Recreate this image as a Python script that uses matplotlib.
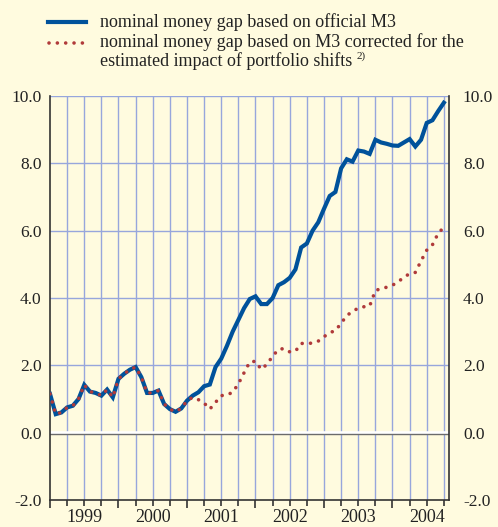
import numpy as np
import matplotlib; matplotlib.use("Agg")
import matplotlib.pyplot as plt
from matplotlib.ticker import FixedLocator, NullFormatter

# monthly observations, Jan 1999 .. Oct 2004 (percent)
official_m3 = [1.15, 0.55, 0.60, 0.75, 0.80, 1.00, 1.42, 1.22, 1.18, 1.10, 1.28, 1.05,
               1.60, 1.75, 1.87, 1.95, 1.65, 1.18, 1.18, 1.25, 0.85, 0.70, 0.62, 0.72,
               0.95, 1.10, 1.20, 1.38, 1.43, 1.95, 2.20, 2.58, 3.00, 3.35, 3.70, 3.97,
               4.05, 3.82, 3.82, 4.00, 4.38, 4.47, 4.60, 4.85, 5.50, 5.62, 6.00, 6.25,
               6.65, 7.03, 7.15, 7.85, 8.12, 8.05, 8.38, 8.35, 8.28, 8.70, 8.62, 8.58,
               8.53, 8.52, 8.62, 8.72, 8.50, 8.70, 9.20, 9.28, 9.55, 9.80]
corrected_m3 = [1.15, 0.55, 0.60, 0.75, 0.80, 1.00, 1.42, 1.22, 1.18, 1.10, 1.28, 1.05,
                1.60, 1.75, 1.87, 1.95, 1.65, 1.18, 1.18, 1.25, 0.85, 0.70, 0.62, 0.72,
                0.95, 1.05, 0.98, 0.88, 0.70, 0.90, 1.10, 1.12, 1.20, 1.45, 1.78, 2.10,
                2.12, 1.88, 2.03, 2.27, 2.47, 2.50, 2.40, 2.42, 2.65, 2.65, 2.66, 2.72,
                2.85, 2.97, 3.03, 3.25, 3.48, 3.60, 3.70, 3.74, 3.76, 4.22, 4.28, 4.32,
                4.38, 4.48, 4.62, 4.72, 4.76, 5.10, 5.42, 5.58, 5.92, 6.10]
years = [1999, 2000, 2001, 2002, 2003, 2004]
yticks = [-2.0, 0.0, 2.0, 4.0, 6.0, 8.0, 10.0]

t = 1999 + np.arange(len(official_m3)) / 12.0

BG = "#fffbdf"
BLUE = "#00529b"
RED = "#b03a3a"
GRID = "#97a6dc"
TXT = "#222222"
plt.rcParams.update({"font.family": "serif",
                     "font.serif": ["Liberation Serif", "DejaVu Serif"],
                     "font.size": 13})
FS = 13

W, H = 498, 527
fig = plt.figure(figsize=(W / 100, H / 100), dpi=100, facecolor=BG)
ax = fig.add_axes([50 / W, 1 - 500 / H, 399 / W, 404 / H], facecolor=BG)

ax.set_xlim(1999.0, 2004.825)
ax.set_ylim(-2.0, 10.0)

# grid
quarters = [1999 + q / 4 for q in range(1, 24)]
for q in quarters:
    ax.axvline(q, color=GRID, lw=1.0, zorder=1)
for y in [2, 4, 6, 8, 10]:
    ax.axhline(y, color=GRID, lw=1.0, zorder=1)
# zero line: white band with grey edge
ax.axhline(0, color="white", lw=2.6, zorder=2)
ax.axhline(-0.045, color="#6b6b6b", lw=1.0, zorder=2)

ax.plot(t, official_m3, color=BLUE, lw=3.0, zorder=4, solid_joinstyle="miter")
ax.plot(t, corrected_m3, color=RED, lw=2.6, ls=(0, (0.01, 2.3)),
        dash_capstyle="round", zorder=5)

for s in ["left", "right", "bottom"]:
    ax.spines[s].set_color("#333333")
    ax.spines[s].set_linewidth(1.2)
ax.spines["top"].set_visible(False)

ax.set_yticks(yticks)
ax.set_yticklabels([f"{v:.1f}" for v in yticks])
ax.tick_params(axis="y", length=0, labelcolor=TXT, labelsize=12.5, pad=6)

# right-hand labels with their own spacing
ax2 = ax.twinx()
ax2.set_ylim(ax.get_ylim())
ax2.set_yticks(yticks)
ax2.set_yticklabels([f"{v:.1f}" for v in yticks])
ax2.tick_params(axis="y", length=0, labelcolor=TXT, labelsize=12.5, pad=10)
for s in ax2.spines.values():
    s.set_visible(False)

ax.xaxis.set_major_locator(FixedLocator(years))
ax.xaxis.set_minor_locator(FixedLocator(quarters))
ax.xaxis.set_major_formatter(NullFormatter())
ax.tick_params(axis="x", which="major", direction="out", length=6, width=1.2, color="#333333")
ax.tick_params(axis="x", which="minor", direction="out", length=4, width=1.2, color="#333333")
for y in years:
    ax.text(y + 0.5, -0.044, str(y), transform=ax.get_xaxis_transform(),
            ha="center", va="center", color=TXT, fontsize=FS)

# legend
def fx(px):
    return px / W

def fy(py):
    return 1 - py / H

fig.lines.append(plt.Line2D([fx(48), fx(86)], [fy(22), fy(22)], color=BLUE, lw=3.0,
                            transform=fig.transFigure))
fig.lines.append(plt.Line2D([fx(49), fx(86)], [fy(43), fy(43)], color=RED, lw=2.6,
                            ls=(0, (0.01, 2.3)), dash_capstyle="round",
                            transform=fig.transFigure))
fig.text(fx(100), fy(22), "nominal money gap based on official M3", va="center",
         color=TXT, fontsize=FS)
fig.text(fx(100), fy(42), "nominal money gap based on M3 corrected for the", va="center",
         color=TXT, fontsize=FS)
fig.text(fx(100), fy(61), "estimated impact of portfolio shifts", va="center",
         color=TXT, fontsize=FS)
fig.text(fx(357), fy(56), "2)", va="center", color=TXT, fontsize=8)

fig.savefig("out.png", dpi=100, facecolor=BG)
